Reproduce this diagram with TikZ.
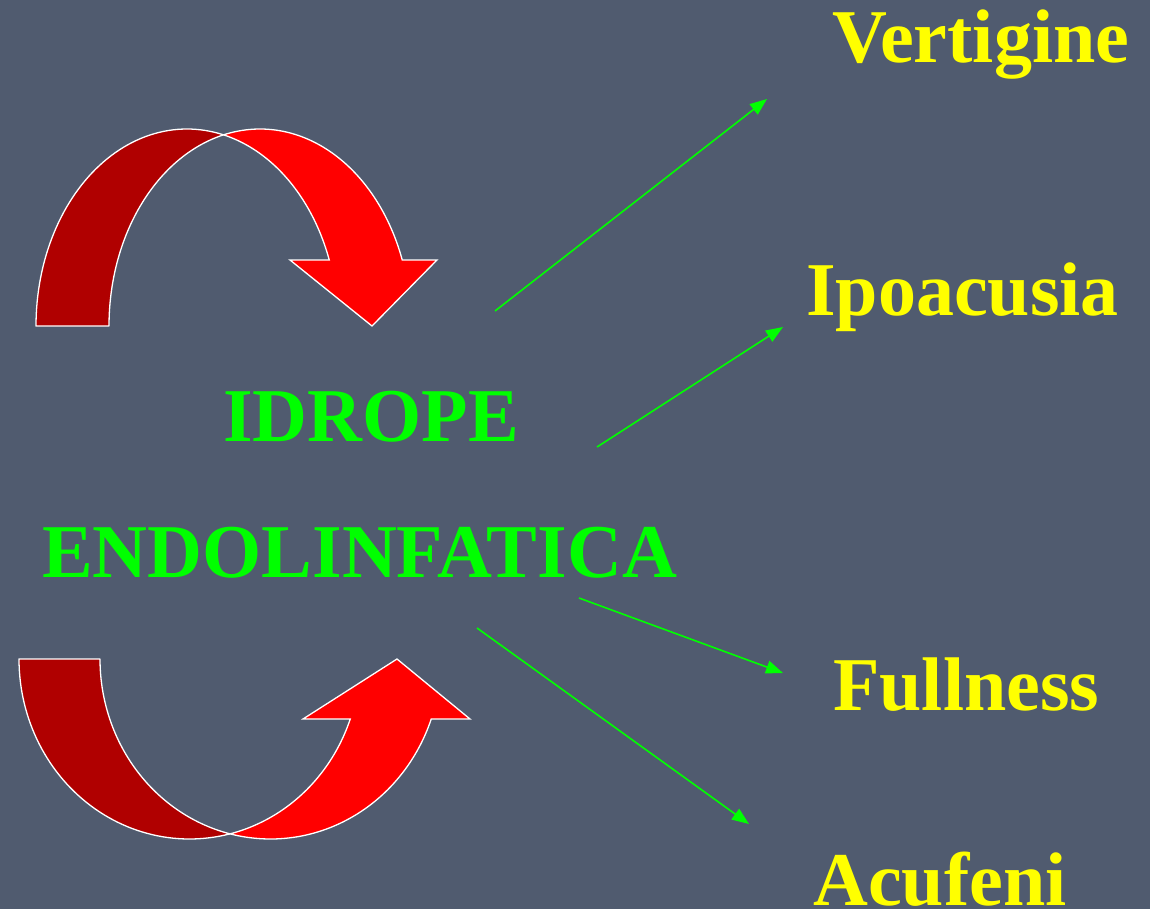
\documentclass[tikz,border=0pt]{standalone}
\usepackage{fontspec}
\setmainfont{Liberation Serif}
\usetikzlibrary{arrows.meta}
\definecolor{bg}{RGB}{80,91,111}
\definecolor{darkred}{RGB}{176,0,0}
\definecolor{brightred}{RGB}{255,0,0}
\definecolor{lgreen}{RGB}{0,255,0}
\definecolor{lyellow}{RGB}{255,255,0}
\tikzset{
  label/.style={anchor=base west, inner sep=0pt, font=\fontsize{76}{82}\selectfont\bfseries},
  symptom/.style={label, text=lyellow},
  title/.style={label, text=lgreen},
  link/.style={draw=lgreen, line width=1.6pt, -{Triangle[length=17pt,width=13pt]}},
  backband/.style={fill=darkred, draw=white, line width=1.3pt, line join=round},
  frontband/.style={fill=brightred, draw=white, line width=1.3pt, line join=miter},
}
\begin{document}
\begin{tikzpicture}[x=1pt,y=-1pt]
\fill[bg] (0,0) rectangle (1150,909);
\useasboundingbox (0,0) rectangle (1150,909);

% ---- top curved arrow ----
\path[backband]
  plot[domain=180:76, samples=60] ({187+151*cos(\x)},{326-197*sin(\x)})
  -- plot[domain=104:180, samples=60] ({260+151*cos(\x)},{326-197*sin(\x)})
  -- cycle;
\path[frontband]
  plot[domain=104:19.57, samples=60] ({260+151*cos(\x)},{326-197*sin(\x)})
  -- (437,260) -- (372,326) -- (290,260)
  -- plot[domain=19.57:76, samples=60] ({187+151*cos(\x)},{326-197*sin(\x)})
  -- cycle;

% ---- bottom curved arrow ----
\path[backband]
  plot[domain=180:76.26, samples=60] ({189.5+170.5*cos(\x)},{659+180*sin(\x)})
  -- plot[domain=103.74:180, samples=60] ({270.5+170.5*cos(\x)},{659+180*sin(\x)})
  -- cycle;
\path[frontband]
  plot[domain=103.74:19.47, samples=60] ({270.5+170.5*cos(\x)},{659+180*sin(\x)})
  -- (470,719) -- (397,659) -- (303,719)
  -- plot[domain=19.47:76.26, samples=60] ({189.5+170.5*cos(\x)},{659+180*sin(\x)})
  -- cycle;

% ---- texts ----
\node[title] (idrope) at (223,441) {IDROPE};
\node[title] (endo) at (42,577) {ENDOLINFATICA};
\node[symptom] (vert) at (832,63) {Vertigine};
\node[symptom] (ipo) at (806,315) {Ipoacusia};
\node[symptom] (full) at (833,710) {Fullness};
\node[symptom] (acu) at (813,905) {Acufeni};

% ---- connectors ----
\coordinate (s1) at (495,311);
\coordinate (e1) at (767,99);
\coordinate (s2) at (597,447);
\coordinate (e2) at (783,327);
\coordinate (s3) at (579,598);
\coordinate (e3) at (783,673);
\coordinate (s4) at (477,628);
\coordinate (e4) at (749,824);
\draw[link] (s1) -- (e1);
\draw[link] (s2) -- (e2);
\draw[link] (s3) -- (e3);
\draw[link] (s4) -- (e4);
\end{tikzpicture}
\end{document}
